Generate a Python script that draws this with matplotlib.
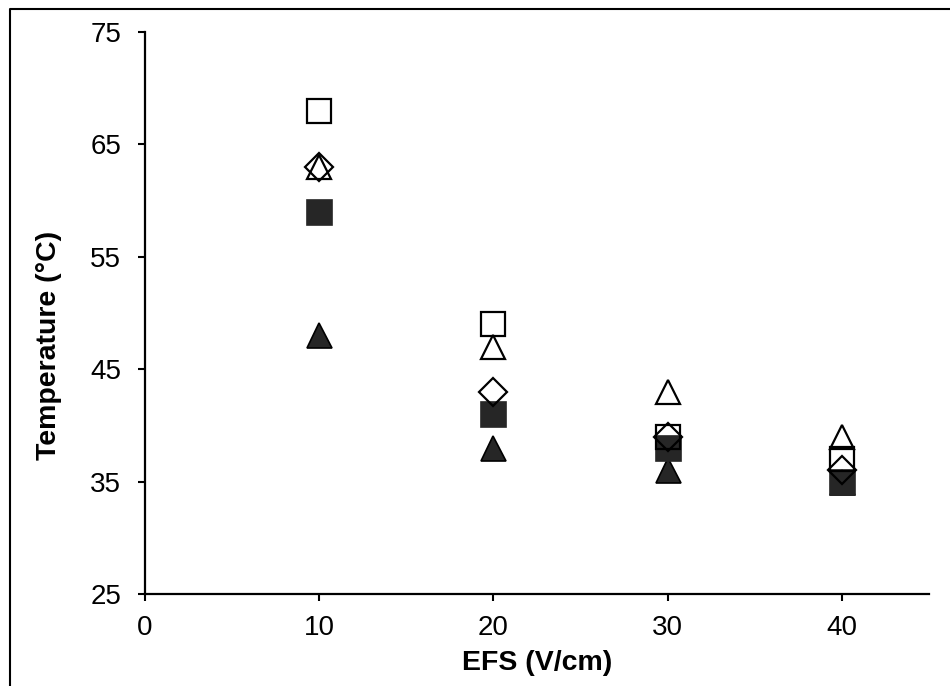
import matplotlib.pyplot as plt
from matplotlib.lines import Line2D

plt.rcParams['font.family'] = ['Liberation Sans', 'DejaVu Sans']

efs = [10, 20, 30, 40]

# temperature readings (deg C) per series
open_square = [68, 49, 39, 37]
open_triangle = [63, 47, 43, 39]
open_diamond = [63, 43, 39, 36]
filled_square = [59, 41, 38, 35]
filled_triangle = [48, 38, 36, 35]

x_ticks = [0, 10, 20, 30, 40]
y_ticks = [25, 35, 45, 55, 65, 75]

fill = "#262626"

fig = plt.figure(figsize=(9.5, 6.86), dpi=100)
ax = fig.add_axes([0.1526, 0.1341, 0.8254, 0.8193])

ax.plot(efs, filled_triangle, linestyle="none", marker="^", markersize=18,
        markerfacecolor=fill, markeredgecolor="black", markeredgewidth=1.2)
ax.plot(efs, filled_square, linestyle="none", marker="s", markersize=18,
        markerfacecolor=fill, markeredgecolor=fill, markeredgewidth=1.2)
ax.plot(efs, open_square, linestyle="none", marker="s", markersize=17,
        markerfacecolor="none", markeredgecolor="black", markeredgewidth=1.6)
ax.plot(efs, open_triangle, linestyle="none", marker="^", markersize=17,
        markerfacecolor="none", markeredgecolor="black", markeredgewidth=1.6)
ax.plot(efs, open_diamond, linestyle="none", marker="D", markersize=14.5,
        markerfacecolor="none", markeredgecolor="black", markeredgewidth=1.6)

ax.set_xlim(0, 45)
ax.set_ylim(25, 75)
ax.set_xticks(x_ticks)
ax.set_yticks(y_ticks)
ax.tick_params(labelsize=20, length=5, width=1.5, direction="out")
ax.tick_params(axis="x", pad=10)
ax.tick_params(axis="y", pad=12)

for side in ["top", "right"]:
    ax.spines[side].set_visible(False)
for side in ["left", "bottom"]:
    ax.spines[side].set_linewidth(1.6)

ax.set_xlabel("EFS (V/cm)", fontsize=20.5, fontweight="bold")
ax.set_ylabel("Temperature (°C)", fontsize=20.5, fontweight="bold")
ax.xaxis.set_label_coords(0.5, -0.10)
ax.yaxis.set_label_coords(-0.106, 0.443)

# chart area border (left and top edges)
fig.add_artist(Line2D([10 / 950, 10 / 950, 1.0], [0.0, 1 - 9 / 686, 1 - 9 / 686],
                      transform=fig.transFigure, color="black", linewidth=1.5))

fig.savefig("out.png", dpi=100)
